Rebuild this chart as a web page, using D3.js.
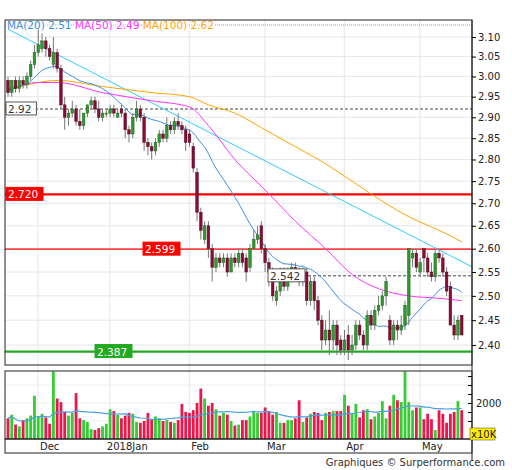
<!DOCTYPE html>
<html><head><meta charset="utf-8">
<script src="https://cdn.jsdelivr.net/npm/d3@7"></script>
<style>body{margin:0;background:#fff}svg{font-family:"DejaVu Sans",Verdana,sans-serif}</style>
</head><body><svg id="c" width="512" height="470"></svg>
<script>
const opens=[2.99,2.96,2.99,2.97,2.99,2.98,3.00,3.03,3.06,
3.07,3.09,3.07,3.03,3.06,3.02,2.93,2.90,2.91,2.92,2.89,2.88,2.91,2.93,2.94,2.92,2.90,2.91,2.91,
2.92,2.90,2.92,2.91,2.87,2.86,2.90,2.92,2.90,2.84,2.83,2.82,2.84,2.86,2.85,2.88,2.87,2.89,2.88,2.87,2.86,
2.83,2.77,2.68,2.62,2.65,2.60,2.56,2.58,2.57,2.58,2.55,2.58,2.57,2.59,2.58,2.56,2.60,2.62,2.65,2.60,
2.57,2.55,2.49,2.51,2.55,2.52,2.55,2.56,2.55,2.53,2.55,2.49,2.53,2.49,2.45,2.41,2.43,2.41,2.44,2.41,2.39,
2.42,2.39,2.40,2.44,2.42,2.40,2.46,2.44,2.47,2.48,2.50,2.45,2.41,2.44,2.43,2.44,2.46,
2.58,2.59,2.55,2.60,2.58,2.55,2.54,2.59,2.58,2.55,2.52,2.44,2.42,2.46];
const closes=[2.96,2.99,2.97,2.99,2.98,3.00,3.03,3.06,3.08,
3.09,3.07,3.05,3.06,3.02,2.93,2.90,2.91,2.92,2.89,2.88,2.91,2.93,2.94,2.92,2.90,2.91,2.91,2.92,
2.91,2.91,2.91,2.87,2.86,2.90,2.92,2.90,2.84,2.83,2.82,2.84,2.86,2.85,2.88,2.87,2.89,2.88,2.87,2.84,2.84,
2.78,2.68,2.64,2.65,2.60,2.56,2.58,2.57,2.58,2.55,2.58,2.57,2.59,2.57,2.55,2.60,2.62,2.63,2.60,2.57,
2.55,2.50,2.51,2.55,2.52,2.55,2.56,2.55,2.53,2.55,2.49,2.53,2.49,2.45,2.41,2.43,2.41,2.44,2.40,2.39,2.41,
2.39,2.40,2.44,2.42,2.40,2.46,2.44,2.47,2.48,2.50,2.53,2.41,2.44,2.43,2.44,2.48,2.60,
2.59,2.56,2.57,2.58,2.55,2.54,2.59,2.58,2.55,2.51,2.44,2.42,2.45,2.42];
const highs=[3.00,2.99,3.00,3.00,3.00,3.01,3.04,3.08,3.12,
3.11,3.10,3.08,3.10,3.07,3.03,2.95,2.92,2.94,2.93,2.92,2.91,2.93,2.95,2.95,2.94,2.92,2.92,2.93,
2.93,2.92,2.93,2.92,2.88,2.91,2.94,2.93,2.91,2.85,2.84,2.85,2.87,2.87,2.90,2.89,2.90,2.91,2.89,2.88,2.87,
2.84,2.78,2.69,2.66,2.66,2.61,2.59,2.59,2.59,2.59,2.59,2.59,2.60,2.60,2.59,2.61,2.64,2.65,2.66,2.61,
2.58,2.56,2.52,2.56,2.56,2.56,2.57,2.57,2.56,2.56,2.56,2.54,2.54,2.50,2.46,2.45,2.47,2.45,2.45,2.42,2.43,
2.44,2.42,2.45,2.45,2.43,2.47,2.47,2.48,2.50,2.51,2.54,2.46,2.45,2.45,2.46,2.49,2.60,
2.60,2.60,2.58,2.60,2.59,2.57,2.60,2.60,2.59,2.56,2.53,2.46,2.46,2.46];
const lows=[2.95,2.95,2.96,2.96,2.97,2.97,2.99,3.02,3.05,
3.06,3.05,3.04,3.02,3.01,2.92,2.87,2.88,2.90,2.88,2.87,2.87,2.90,2.92,2.91,2.89,2.89,2.90,2.90,
2.90,2.90,2.90,2.85,2.84,2.85,2.89,2.89,2.82,2.81,2.80,2.81,2.83,2.84,2.84,2.86,2.86,2.87,2.86,2.82,2.83,
2.77,2.66,2.62,2.61,2.58,2.53,2.55,2.56,2.56,2.54,2.55,2.56,2.56,2.56,2.53,2.55,2.60,2.61,2.59,2.55,
2.52,2.49,2.48,2.50,2.51,2.51,2.54,2.54,2.52,2.52,2.48,2.48,2.47,2.44,2.39,2.40,2.38,2.39,2.38,2.38,2.38,
2.37,2.38,2.39,2.41,2.39,2.39,2.43,2.43,2.46,2.47,2.48,2.40,2.40,2.41,2.42,2.43,2.44,
2.56,2.55,2.54,2.55,2.54,2.53,2.53,2.57,2.54,2.50,2.44,2.41,2.41,2.42];
const volumes=[1150,1350,800,700,1050,1150,1300,2400,1250,
1400,1200,850,3750,2250,2050,1500,1300,1450,2550,1150,1050,950,550,500,600,700,850,1650,
1550,1350,1150,1300,1450,1400,950,900,1000,1450,1100,1250,1150,1000,1050,950,900,1050,1950,1500,1450,
1600,2000,2800,2250,1850,2000,1650,1300,1450,1350,1000,750,800,1050,1050,1250,1550,1450,1450,1750,
1550,1350,1500,900,900,1050,1050,1150,2150,950,1200,1400,1500,1450,1050,1450,1500,1550,1550,1550,2450,
1850,1450,1950,1200,1600,1650,1100,1250,1450,2100,1150,1850,2450,2150,2050,3750,2050,
1600,1750,1750,1100,1400,1100,500,1600,1400,900,1400,1500,2100,1600];
// moving averages at candle indices
const maIdx=[0,8,13,25,38,48,53,60,68,76,84,91,98,106,114,120];
const ma50=[2.965,2.985,2.985,2.96,2.94,2.925,2.88,2.80,2.73,2.66,2.60,2.545,2.515,2.50,2.495,2.49];
const ma100=[2.965,2.985,2.99,2.975,2.96,2.95,2.93,2.91,2.87,2.83,2.79,2.75,2.71,2.67,2.64,2.615];
const trendIdx=[0,123], trendVal=[3.12,2.56];
const priceTicks=[3.10,3.05,3.00,2.95,2.90,2.85,2.80,2.75,2.70,2.65,2.60,2.55,2.50,2.45,2.40];
const months=["Dec","2018Jan","Feb","Mar","Apr","May"], monthIdx=[9,28,49,69,90,110];
const levels=[{v:2.92,t:"2.92",k:"dash",lx:6},{v:2.72,t:"2.720",k:"red",lx:6},{v:2.599,t:"2.599",k:"red2",lx:143},
{v:2.542,t:"2.542",k:"dash",lx:268},{v:2.387,t:"2.387",k:"green",lx:95}];

const svg=d3.select("#c");
const L=5,R=472,T=20,B=365,VT=371,VB=439;
const n=closes.length;
const x=d3.scaleLinear().domain([0,n]).range([8,461.75+3.75]);
const y=d3.scaleLog().domain([2.40,3.10]).range([345,37]);
const yv=d3.scaleLinear().domain([0,2000]).range([VB,403]);

const g=svg.append("g");
priceTicks.forEach(p=>g.append("line").attr("x1",L).attr("x2",R).attr("y1",y(p)).attr("y2",y(p)).attr("stroke","#e6e6e6"));
monthIdx.forEach(i=>{g.append("line").attr("x1",x(i)-4).attr("x2",x(i)-4).attr("y1",T).attr("y2",VB).attr("stroke","#e6e6e6");});
[1000,2000,3000].forEach(v=>g.append("line").attr("x1",L).attr("x2",R).attr("y1",yv(v)).attr("y2",yv(v)).attr("stroke","#eee"));

svg.append("line").attr("x1",L).attr("x2",R).attr("y1",25).attr("y2",25).attr("stroke","#999").attr("stroke-dasharray","1,1");
const lg=svg.append("text").attr("x",7).attr("y",29).attr("font-size",10.5);
[["MA(20)","2.51","#3b8ee0"],["MA(50)","2.49","#ff33ff"],["MA(100)","2.62","#ffa500"]].forEach((d,i)=>{
  lg.append("tspan").text((i?"  ":"")+d[0]+" ").attr("fill",d[2]).style("paint-order","stroke").attr("stroke","#fff").attr("stroke-width",3);
  lg.append("tspan").text(" "+d[1]).attr("fill",d[2]).style("paint-order","stroke").attr("stroke","#fff").attr("stroke-width",3);
});

levels.forEach(l=>{
  const yy=y(l.v);
  let col="#222",w=1,da=null;
  if(l.k=="dash"){da="3,2";col="#444";}
  if(l.k=="red"){col="#ff0000";w=2.2;}
  if(l.k=="red2"){col="#ff0000";w=1.2;}
  if(l.k=="green"){col="#22aa22";w=2.2;}
  svg.append("line").attr("x1",l.k=="dash"&&l.lx>100?l.lx:L).attr("x2",R).attr("y1",yy).attr("y2",yy).attr("stroke",col).attr("stroke-width",w).attr("stroke-dasharray",da);
});

const vg=svg.append("g");
volumes.forEach((v,i)=>vg.append("rect").attr("x",x(i)-1.4).attr("width",2.8).attr("y",Math.max(VT,yv(v))).attr("height",VB-Math.max(VT,yv(v)))
 .attr("fill",closes[i]>=opens[i]?"#33cc33":"#e8174c"));
const vma=volumes.map((v,i)=>d3.mean(volumes.slice(Math.max(0,i-19),i+1)));
svg.append("path").attr("d",d3.line().x((d,i)=>x(i)).y(d=>yv(d))(vma)).attr("fill","none").attr("stroke","#4aa0e0").attr("stroke-width",1.2);

svg.append("clipPath").attr("id","cp").append("rect").attr("x",L).attr("y",T).attr("width",R-L).attr("height",B-T);
const mg=svg.append("g").attr("clip-path","url(#cp)");
mg.append("path").attr("d",d3.line().x(d=>x(d[0])).y(d=>y(d[1]))(trendIdx.map((d,i)=>[d,trendVal[i]]))).attr("stroke","#33ccff").attr("fill","none");
mg.append("path").attr("d",d3.line().curve(d3.curveMonotoneX).x(d=>x(d[0])).y(d=>y(d[1]))(maIdx.map((d,i)=>[d,ma100[i]]))).attr("stroke","#ffa500").attr("fill","none");
mg.append("path").attr("d",d3.line().curve(d3.curveMonotoneX).x(d=>x(d[0])).y(d=>y(d[1]))(maIdx.map((d,i)=>[d,ma50[i]]))).attr("stroke","#ff33ff").attr("fill","none");
const ma20=closes.map((c,i)=>d3.mean(closes.slice(Math.max(0,i-19),i+1)));
mg.append("path").attr("d",d3.line().curve(d3.curveMonotoneX).x((d,i)=>x(i)).y(d=>y(d))(ma20)).attr("stroke","#3b8ee0").attr("fill","none");

const cg=svg.append("g");
closes.forEach((c,i)=>{
  const o=opens[i],up=c>=o,xx=x(i);
  cg.append("line").attr("x1",xx).attr("x2",xx).attr("y1",y(highs[i])).attr("y2",y(lows[i])).attr("stroke","#777");
  const t=y(Math.max(o,c)),b=y(Math.min(o,c));
  cg.append("rect").attr("x",xx-1.3).attr("width",2.6).attr("y",t).attr("height",Math.max(1,b-t))
   .attr("fill",up?"#2e9a2e":"#8b0b35").attr("stroke",up?"#1c5e1c":"#4a0a1c").attr("stroke-width",0.5);
});

levels.forEach(l=>{
  const yy=y(l.v);
  const bg=l.k=="dash"?"#fff":(l.k=="green"?"#22aa22":"#ff0000");
  const fg=l.k=="dash"?"#333":"#fff";
  const w=l.t.length*6.6+4;
  svg.append("rect").attr("x",l.lx).attr("y",yy-7).attr("width",w).attr("height",13).attr("fill",bg).attr("stroke",l.k=="dash"?"#555":bg);
  svg.append("text").attr("x",l.lx+2).attr("y",yy+4).attr("font-size",10.5).attr("fill",fg).text(l.t);
});

svg.append("rect").attr("x",L).attr("y",T).attr("width",R-L).attr("height",B-T).attr("fill","none").attr("stroke","#222");
svg.append("rect").attr("x",L).attr("y",VT).attr("width",R-L).attr("height",VB-VT).attr("fill","none").attr("stroke","#222");
svg.append("rect").attr("x",L).attr("y",VB).attr("width",R-L).attr("height",14).attr("fill","none").attr("stroke","#222");
svg.append("line").attr("x1",R).attr("x2",R).attr("y1",T).attr("y2",460).attr("stroke","#222");

const ax=svg.append("g").attr("transform",`translate(${R},0)`).call(d3.axisRight(y).tickValues(priceTicks).tickFormat(d3.format(".2f")).tickSize(4));
ax.select(".domain").remove();
ax.selectAll("text").attr("font-size",10).attr("font-family","DejaVu Sans,Verdana,sans-serif").attr("fill","#222").attr("x",6);
const vax=svg.append("g").attr("transform",`translate(${R},0)`).call(d3.axisRight(yv).tickValues([1000,1500,2000,2500,3000,3500]).tickFormat(d=>d==2000?"2000":"").tickSize(-4));
vax.select(".domain").remove();
vax.selectAll("text").attr("font-size",10).attr("font-family","DejaVu Sans,Verdana,sans-serif").attr("fill","#222").attr("x",4);
svg.append("rect").attr("x",470).attr("y",428).attr("width",25).attr("height",12).attr("fill","#ffee00").attr("stroke","#444").attr("stroke-width",0.5);
svg.append("text").attr("x",471).attr("y",438).attr("font-size",10).attr("fill","#222").text("x10K");

months.forEach((m,i)=>svg.append("text").attr("x",x(monthIdx[i])-4+(i==1?-3:2)).attr("y",450).attr("font-size",10).attr("fill","#222").text(m));
svg.append("text").attr("x",505).attr("y",466).attr("text-anchor","end").attr("font-size",10).attr("fill","#333").text("Graphiques © Surperformance.com");
</script></body></html>
